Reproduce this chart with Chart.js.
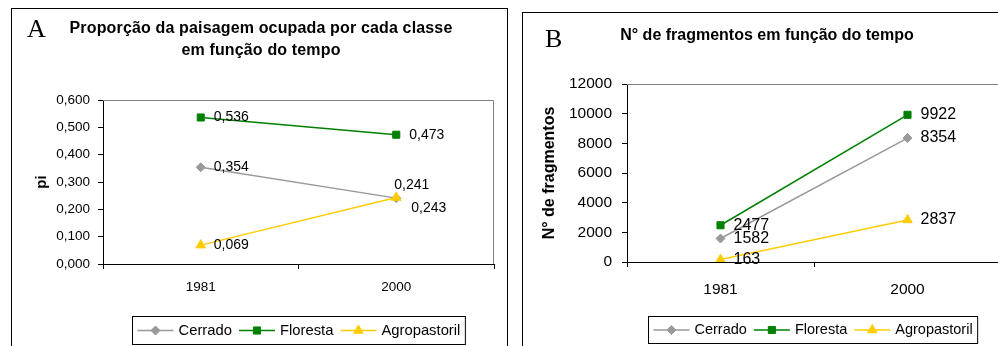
<!DOCTYPE html>
<html>
<head>
<meta charset="utf-8">
<script src="https://cdn.jsdelivr.net/npm/chart.js@4.4.0/dist/chart.umd.min.js"></script>
<style>
html, body { margin: 0; padding: 0; background: #fff; overflow: hidden; width: 998px; height: 346px; }
.panel { position: absolute; border: 1px solid #000; background: #fff; overflow: hidden; }
#pA { left: 11px; top: 8px; width: 495px; height: 360px; }
#pB { left: 522px; top: 12px; width: 500px; height: 360px; }
.letter { position: absolute; font-family: "Liberation Serif", "Times New Roman", serif; font-size: 26px; line-height: 26px; }
.title { position: absolute; font-family: "Liberation Sans", Arial, sans-serif; font-weight: bold; text-align: center; line-height: 22px; white-space: nowrap; }
canvas { position: absolute; left: 0; top: 0; }
</style>
</head>
<body>
<div class="panel" id="pA">
  <canvas id="chartA" width="495" height="340"></canvas>
  <div class="letter" style="left:15px;top:7px">A</div>
  <div class="title" style="left:49px;top:8px;width:400px;font-size:16px;letter-spacing:0.15px">Proporção da paisagem ocupada por cada classe<br>em função do tempo</div>
</div>
<div class="panel" id="pB">
  <canvas id="chartB" width="490" height="340"></canvas>
  <div class="letter" style="left:22px;top:13px">B</div>
  <div class="title" style="left:44px;top:11px;width:400px;font-size:16px">N° de fragmentos em função do tempo</div>
</div>
<script>
// données
const categories = ['1981', '2000'];

const cerradoA = [0.354, 0.241];
const florestaA = [0.536, 0.473];
const agroA = [0.069, 0.243];
const yTicksA = [0, 0.1, 0.2, 0.3, 0.4, 0.5, 0.6];

const cerradoB = [1582, 8354];
const florestaB = [2477, 9922];
const agroB = [163, 2837];
const yTicksB = [0, 2000, 4000, 6000, 8000, 10000, 12000];

const seriesNames = ['Cerrado', 'Floresta', 'Agropastoril'];
const colors = ['#999999', '#008000', '#FFCC00'];
const styles = ['rectRot', 'rect', 'triangle'];
const radii = [4.5, 5, 5.5];

const FONT = '"Liberation Sans", Arial, sans-serif';

function buildDatasets(series, places) {
  return series.map((data, i) => ({
    label: seriesNames[i],
    data: data,
    borderColor: colors[i],
    backgroundColor: colors[i],
    borderWidth: 1.5,
    pointStyle: styles[i],
    pointRadius: radii[i],
    pointBorderWidth: 1,
    tension: 0,
    order: 2 - i,
    labelPlace: places[i]
  }));
}

// cadre gris du plot (haut et droite)
const framePlugin = {
  id: 'frame',
  beforeDatasetsDraw(chart) {
    const { ctx, chartArea: a } = chart;
    ctx.save();
    ctx.strokeStyle = '#808080';
    ctx.lineWidth = 1;
    ctx.beginPath();
    ctx.moveTo(Math.round(a.left), Math.round(a.top) + 0.5);
    ctx.lineTo(Math.round(a.right) - 0.5, Math.round(a.top) + 0.5);
    ctx.lineTo(Math.round(a.right) - 0.5, Math.round(a.bottom));
    ctx.stroke();
    ctx.restore();
  }
};

// étiquettes de valeurs
const valuePlugin = {
  id: 'values',
  afterDatasetsDraw(chart, args, opts) {
    const ctx = chart.ctx;
    ctx.save();
    ctx.font = opts.size + 'px ' + FONT;
    ctx.fillStyle = '#000';
    ctx.textAlign = 'left';
    ctx.textBaseline = 'middle';
    chart.data.datasets.forEach((ds, i) => {
      const meta = chart.getDatasetMeta(i);
      meta.data.forEach((pt, j) => {
        let x = pt.x, y = pt.y;
        const place = ds.labelPlace[j];
        if (place === 'right') { x += 13; }
        else if (place === 'above') { x -= 2; y -= 13; }
        else if (place === 'below') { x += 15; y += 11; }
        ctx.fillText(opts.format(ds.data[j]), x, y);
      });
    });
    ctx.restore();
  }
};

// légende encadrée façon Excel
const boxLegendPlugin = {
  id: 'boxLegend',
  afterDraw(chart, args, opts) {
    const ctx = chart.ctx;
    ctx.save();
    ctx.font = opts.size + 'px ' + FONT;
    const lineLen = 36, gapTxt = 5, gapItem = 7, pad = 5;
    const items = chart.data.datasets.map(ds => ({ ds, w: ctx.measureText(ds.label).width }));
    let total = pad * 2;
    items.forEach((it, k) => { total += lineLen + gapTxt + it.w + (k < items.length - 1 ? gapItem : 0); });
    const left = opts.left, top = opts.top, h = opts.height;
    ctx.fillStyle = '#fff';
    ctx.fillRect(left, top, total, h);
    ctx.strokeStyle = '#000';
    ctx.lineWidth = 1;
    ctx.strokeRect(left + 0.5, top + 0.5, total, h);
    const cy = top + h / 2 + 0.5;
    let x = left + pad + 0.5;
    items.forEach(it => {
      const ds = it.ds;
      ctx.strokeStyle = ds.borderColor;
      ctx.lineWidth = 1.5;
      ctx.beginPath();
      ctx.moveTo(x, cy);
      ctx.lineTo(x + lineLen, cy);
      ctx.stroke();
      ctx.fillStyle = ds.backgroundColor;
      ctx.lineWidth = 1;
      Chart.helpers.drawPoint(ctx, { pointStyle: ds.pointStyle, radius: ds.pointRadius, borderWidth: 1, rotation: 0 }, x + lineLen / 2, cy);
      ctx.fillStyle = '#000';
      ctx.textAlign = 'left';
      ctx.textBaseline = 'middle';
      ctx.fillText(ds.label, x + lineLen + gapTxt, cy);
      x += lineLen + gapTxt + it.w + gapItem;
    });
    ctx.restore();
  }
};

function makeChart(id, cfg) {
  return new Chart(document.getElementById(id), {
    type: 'line',
    data: { labels: categories, datasets: buildDatasets(cfg.series, cfg.places) },
    options: {
      responsive: false,
      animation: false,
      events: [],
      layout: { padding: { left: 0, top: cfg.top, right: cfg.right, bottom: cfg.bottom } },
      scales: {
        x: {
          offset: true,
          grid: { offset: true, drawOnChartArea: false, tickLength: 5, color: '#000' },
          border: { color: '#000' },
          ticks: { color: '#000', padding: cfg.xPad, font: { family: FONT, size: cfg.tickSize } },
          afterFit: s => { s.height = 40; }
        },
        y: {
          min: cfg.yTicks[0],
          max: cfg.yTicks[cfg.yTicks.length - 1],
          afterBuildTicks: s => { s.ticks = cfg.yTicks.map(v => ({ value: v })); },
          grid: { drawOnChartArea: false, tickLength: 5, color: '#000' },
          border: { color: '#000' },
          ticks: { color: '#000', padding: cfg.yPad, font: { family: FONT, size: cfg.tickSize }, callback: cfg.format },
          title: { display: true, text: cfg.yTitle, color: '#000', font: { family: FONT, size: cfg.yTitleSize, weight: 'bold' }, padding: { top: cfg.yTitlePad, bottom: 0 } },
          afterFit: s => { s.width = cfg.yWidth; }
        }
      },
      plugins: {
        legend: { display: false },
        tooltip: { enabled: false },
        values: { size: cfg.labelSize, format: cfg.format },
        boxLegend: { size: cfg.legSize, left: cfg.legLeft, top: cfg.legTop, height: cfg.legH }
      }
    },
    plugins: [framePlugin, valuePlugin, boxLegendPlugin]
  });
}

makeChart('chartA', {
  series: [cerradoA, florestaA, agroA],
  places: [['right', 'above'], ['right', 'right'], ['right', 'below']],
  yTicks: yTicksA,
  format: v => Number(v).toFixed(3).replace('.', ','),
  yTitle: 'pi', yTitleSize: 15, yTitlePad: 21,
  tickSize: 13.5, labelSize: 14,
  top: 91, right: 13, bottom: 45, yWidth: 91, yPad: 8, xPad: 10,
  legSize: 14.8, legLeft: 120, legTop: 307, legH: 28
});

makeChart('chartB', {
  series: [cerradoB, florestaB, agroB],
  places: [['right', 'right'], ['right', 'right'], ['right', 'right']],
  yTicks: yTicksB,
  format: v => String(Math.round(v)),
  yTitle: 'N° de fragmentos', yTitleSize: 16, yTitlePad: 17,
  tickSize: 15.5, labelSize: 16,
  top: 71, right: 12, bottom: 51, yWidth: 104, yPad: 10, xPad: 13,
  legSize: 14.5, legLeft: 125, legTop: 303, legH: 27
});
</script>
</body>
</html>
